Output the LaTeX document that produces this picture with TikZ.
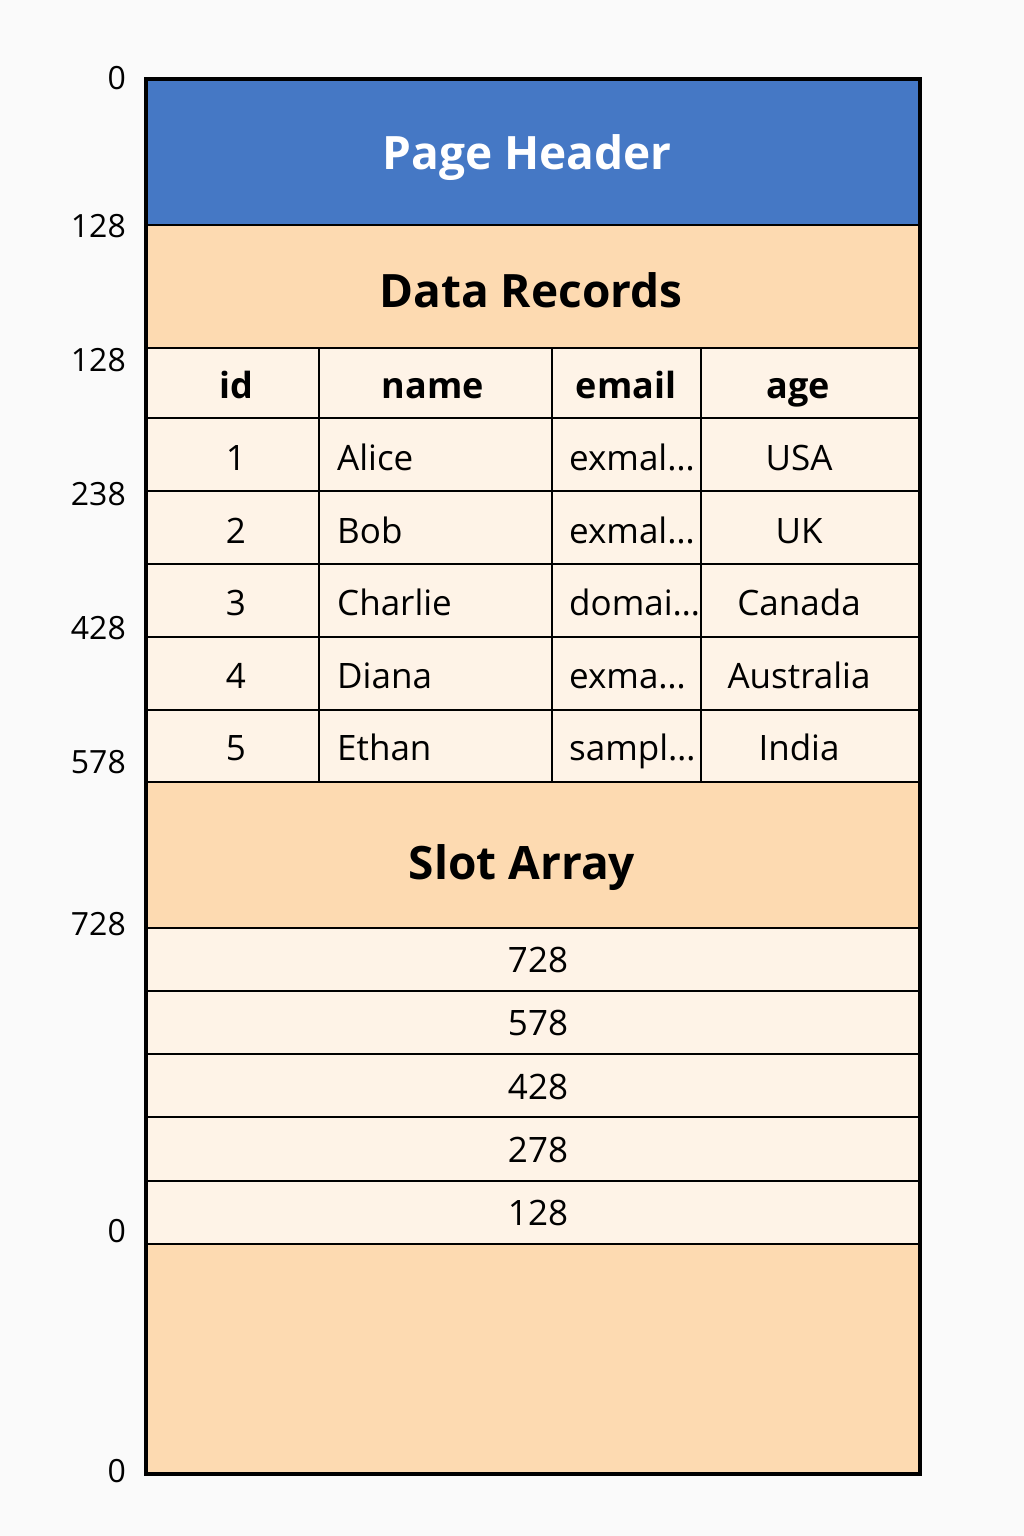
\documentclass[tikz,border=0pt]{standalone}
\usepackage{fontspec}
\setmainfont{Open Sans}
\definecolor{headblue}{RGB}{69,120,197}
\definecolor{peach}{RGB}{253,218,177}
\definecolor{cream}{RGB}{254,243,231}
\definecolor{paper}{RGB}{250,250,250}
\tikzset{
  lbl/.style={inner sep=0pt, text depth=0pt},
  title/.style={lbl, text height=33pt, font=\fontsize{46}{50}\selectfont\bfseries},
  colhead/.style={lbl, text height=26pt, font=\fontsize{36}{40}\selectfont\bfseries},
  cell/.style={lbl, text height=25pt, font=\fontsize{35}{40}\selectfont},
  offset/.style={lbl, text height=23pt, anchor=east, font=\fontsize{32}{36}\selectfont},
  grid/.style={line width=2.5pt}
}
\begin{document}
\begin{tikzpicture}[x=1pt,y=-1pt]
  \fill[paper] (0,0) rectangle (1024,1536);
  % page regions
  \fill[headblue] (146,79) rectangle (920,225);
  \fill[peach] (146,225) rectangle (920,348);
  \fill[cream] (146,348) rectangle (920,782);
  \fill[peach] (146,782) rectangle (920,928);
  \fill[cream] (146,928) rectangle (920,1244);
  \fill[peach] (146,1244) rectangle (920,1474);
  \foreach \y in {225,348,418,491,564,637,710,782,928,991,1054,1117,1181,1244}
    \draw[grid] (146,\y) -- (920,\y);
  \foreach \x in {319,552,701}
    \draw[grid] (\x,348) -- (\x,782);
  \draw[line width=4pt] (146,79) rectangle (920,1474);

  \node[title, text=white] (header) at (527,153) {Page Header};
  \node[title] (records) at (531,291) {Data Records};
  \node[title] (slots) at (522,863) {Slot Array};

  % table
  \node[colhead] (hid) at (236,385) {id};
  \node[colhead] (hname) at (433,385) {name};
  \node[colhead] (hemail) at (626,385) {email};
  \node[colhead] (hage) at (798,385) {age};
  \foreach \i/\n/\e/\c [count=\r] in {1/Alice/exmal…/USA, 2/Bob/exmal…/UK,
      3/Charlie/domai…/Canada, 4/Diana/exma…/Australia, 5/Ethan/sampl…/India}{
    \node[cell] (id\r) at ({236},{458+72.5*(\r-1)}) {\i};
    \node[cell, anchor=west] (name\r) at ({337},{458+72.5*(\r-1)}) {\n};
    \node[cell, anchor=west] (email\r) at ({569},{458+72.5*(\r-1)}) {\e};
    \node[cell] (age\r) at ({799},{458+72.5*(\r-1)}) {\c};
  }

  % slot entries
  \foreach \v [count=\k] in {728,578,428,278,128}
    \node[cell] (slot\k) at ({538},{960+63.3*(\k-1)}) {\v};

  % offsets
  \foreach \v/\y [count=\k] in {0/78,128/226,128/360,238/494,428/628,578/762,728/924,0/1231,0/1471}
    \node[offset] (off\k) at (126,\y) {\v};
\end{tikzpicture}
\end{document}
